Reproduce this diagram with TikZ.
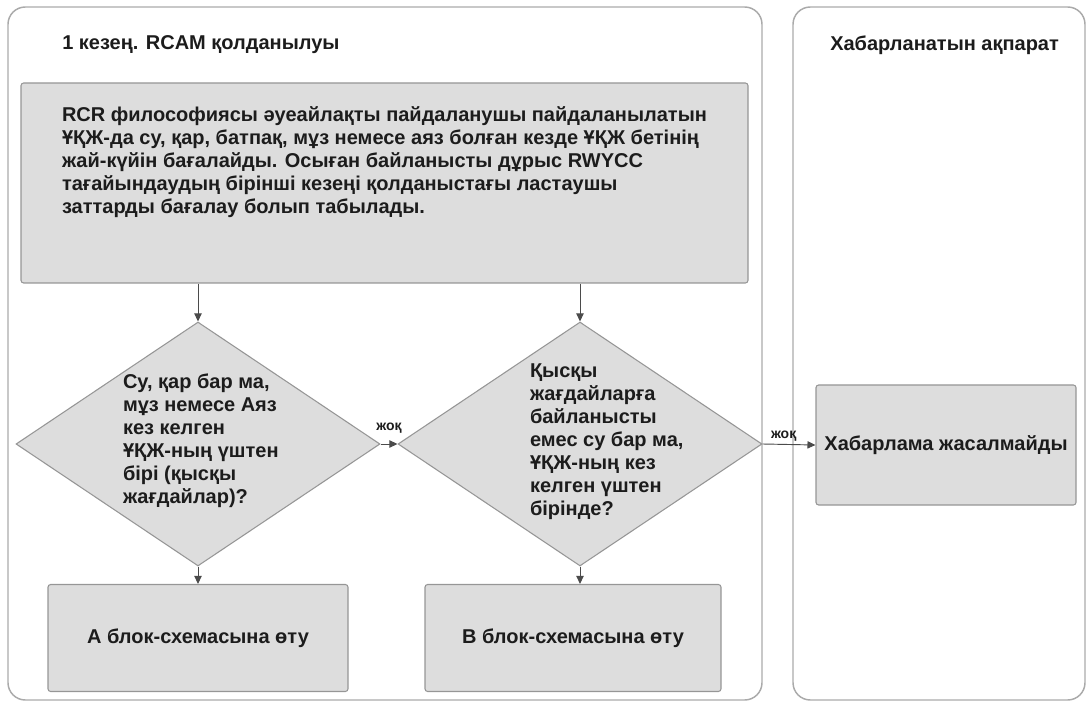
\documentclass[tikz,border=0pt]{standalone}
\usepackage{fontspec}
\setmainfont{Liberation Sans}
\usetikzlibrary{shapes.geometric, arrows.meta}

\definecolor{boxgray}{RGB}{221,221,221}
\definecolor{edgegray}{RGB}{150,150,150}
\definecolor{panelgray}{RGB}{170,170,170}
\definecolor{linegray}{RGB}{75,75,75}
\definecolor{textgray}{RGB}{28,28,28}

% text of a decision, left edge at #1 from the centre
\newcommand{\qtext}[2]{\makebox[0pt][l]{\hspace*{#1}\raisebox{-3pt}{\smash{\parbox{150pt}{\raggedright #2}}}}}

\begin{document}
\begin{tikzpicture}[x=0.75pt, y=-0.75pt,
    font=\bfseries\fontsize{15}{17.25}\selectfont, text=textgray,
    >={Triangle[length=6pt,width=5.5pt]},
    panel/.style={draw=panelgray, line width=1.1pt, rounded corners=13pt},
    box/.style={draw=edgegray, fill=boxgray, line width=0.8pt, rounded corners=2pt, inner sep=0pt},
    decision/.style={diamond, draw=edgegray, fill=boxgray, line width=0.8pt, inner sep=0pt,
        minimum width=273pt, minimum height=183pt},
    arrow/.style={draw=linegray, line width=0.7pt, ->},
    title/.style={anchor=west, inner sep=0pt},
    lbl/.style={font=\bfseries\fontsize{10.5}{12}\selectfont, inner sep=2pt}]

    \useasboundingbox (0,0) rectangle (1086,702);

    \draw [panel] (8,7) rectangle (762,700);        % stage 1 lane
    \draw [panel] (793,7) rectangle (1085,700);     % reported info lane
    \node [title] (stage) at (62,45) {1 кезең. RCAM қолданылуы};
    \node [title] (report) at (830,45) {Хабарланатын ақпарат};

    % top box
    \node [box, minimum width=545.25pt, minimum height=150pt] (rcr) at (384.5,183)
        {\parbox[c][114pt][t]{483.75pt}{\raggedright
        RCR философиясы әуеайлақты пайдаланушы пайдаланылатын\\
        ҰҚЖ-да су, қар, батпақ, мұз немесе аяз болған кезде ҰҚЖ бетінің\\
        жай-күйін бағалайды. Осыған байланысты дұрыс RWYCC\\
        тағайындаудың бірінші кезеңі қолданыстағы ластаушы\\
        заттарды бағалау болып табылады.}};

    % the two questions
    \node [decision] (q1) at (198,444)
        {\qtext{-56.25pt}{Су, қар бар ма,\\ мұз немесе Аяз\\ кез келген\\
        ҰҚЖ-ның үштен\\ бірі (қысқы\\ жағдайлар)?}};
    \node [decision] (q2) at (580,444)
        {\qtext{-37.5pt}{Қысқы\\ жағдайларға\\ байланысты\\ емес су бар ма,\\
        ҰҚЖ-ның кез\\ келген үштен\\ бірінде?}};

    \node [box, minimum width=225pt, minimum height=80.25pt] (blockA) at (198,638) {А блок-схемасына өту};
    \node [box, minimum width=222pt, minimum height=80.25pt] (blockB) at (573,638) {В блок-схемасына өту};
    \node [box, minimum width=195pt, minimum height=90pt] (nomsg) at (946,445) {Хабарлама жасалмайды};

    \draw [arrow] (rcr.south -| q1.north) -- (q1.north);
    \draw [arrow] (rcr.south -| q2.north) -- (q2.north);
    \draw [arrow] (q1.east) -- (q2.west)
        node [midway, above, lbl, yshift=6pt] {жоқ};
    \draw [arrow] (q2.east) -- (nomsg.west)
        node [pos=0.4, above, lbl] {жоқ};
    \draw [arrow] (q1.south) -- (blockA.north);
    \draw [arrow] (q2.south) -- (q2.south |- blockB.north);
\end{tikzpicture}
\end{document}
